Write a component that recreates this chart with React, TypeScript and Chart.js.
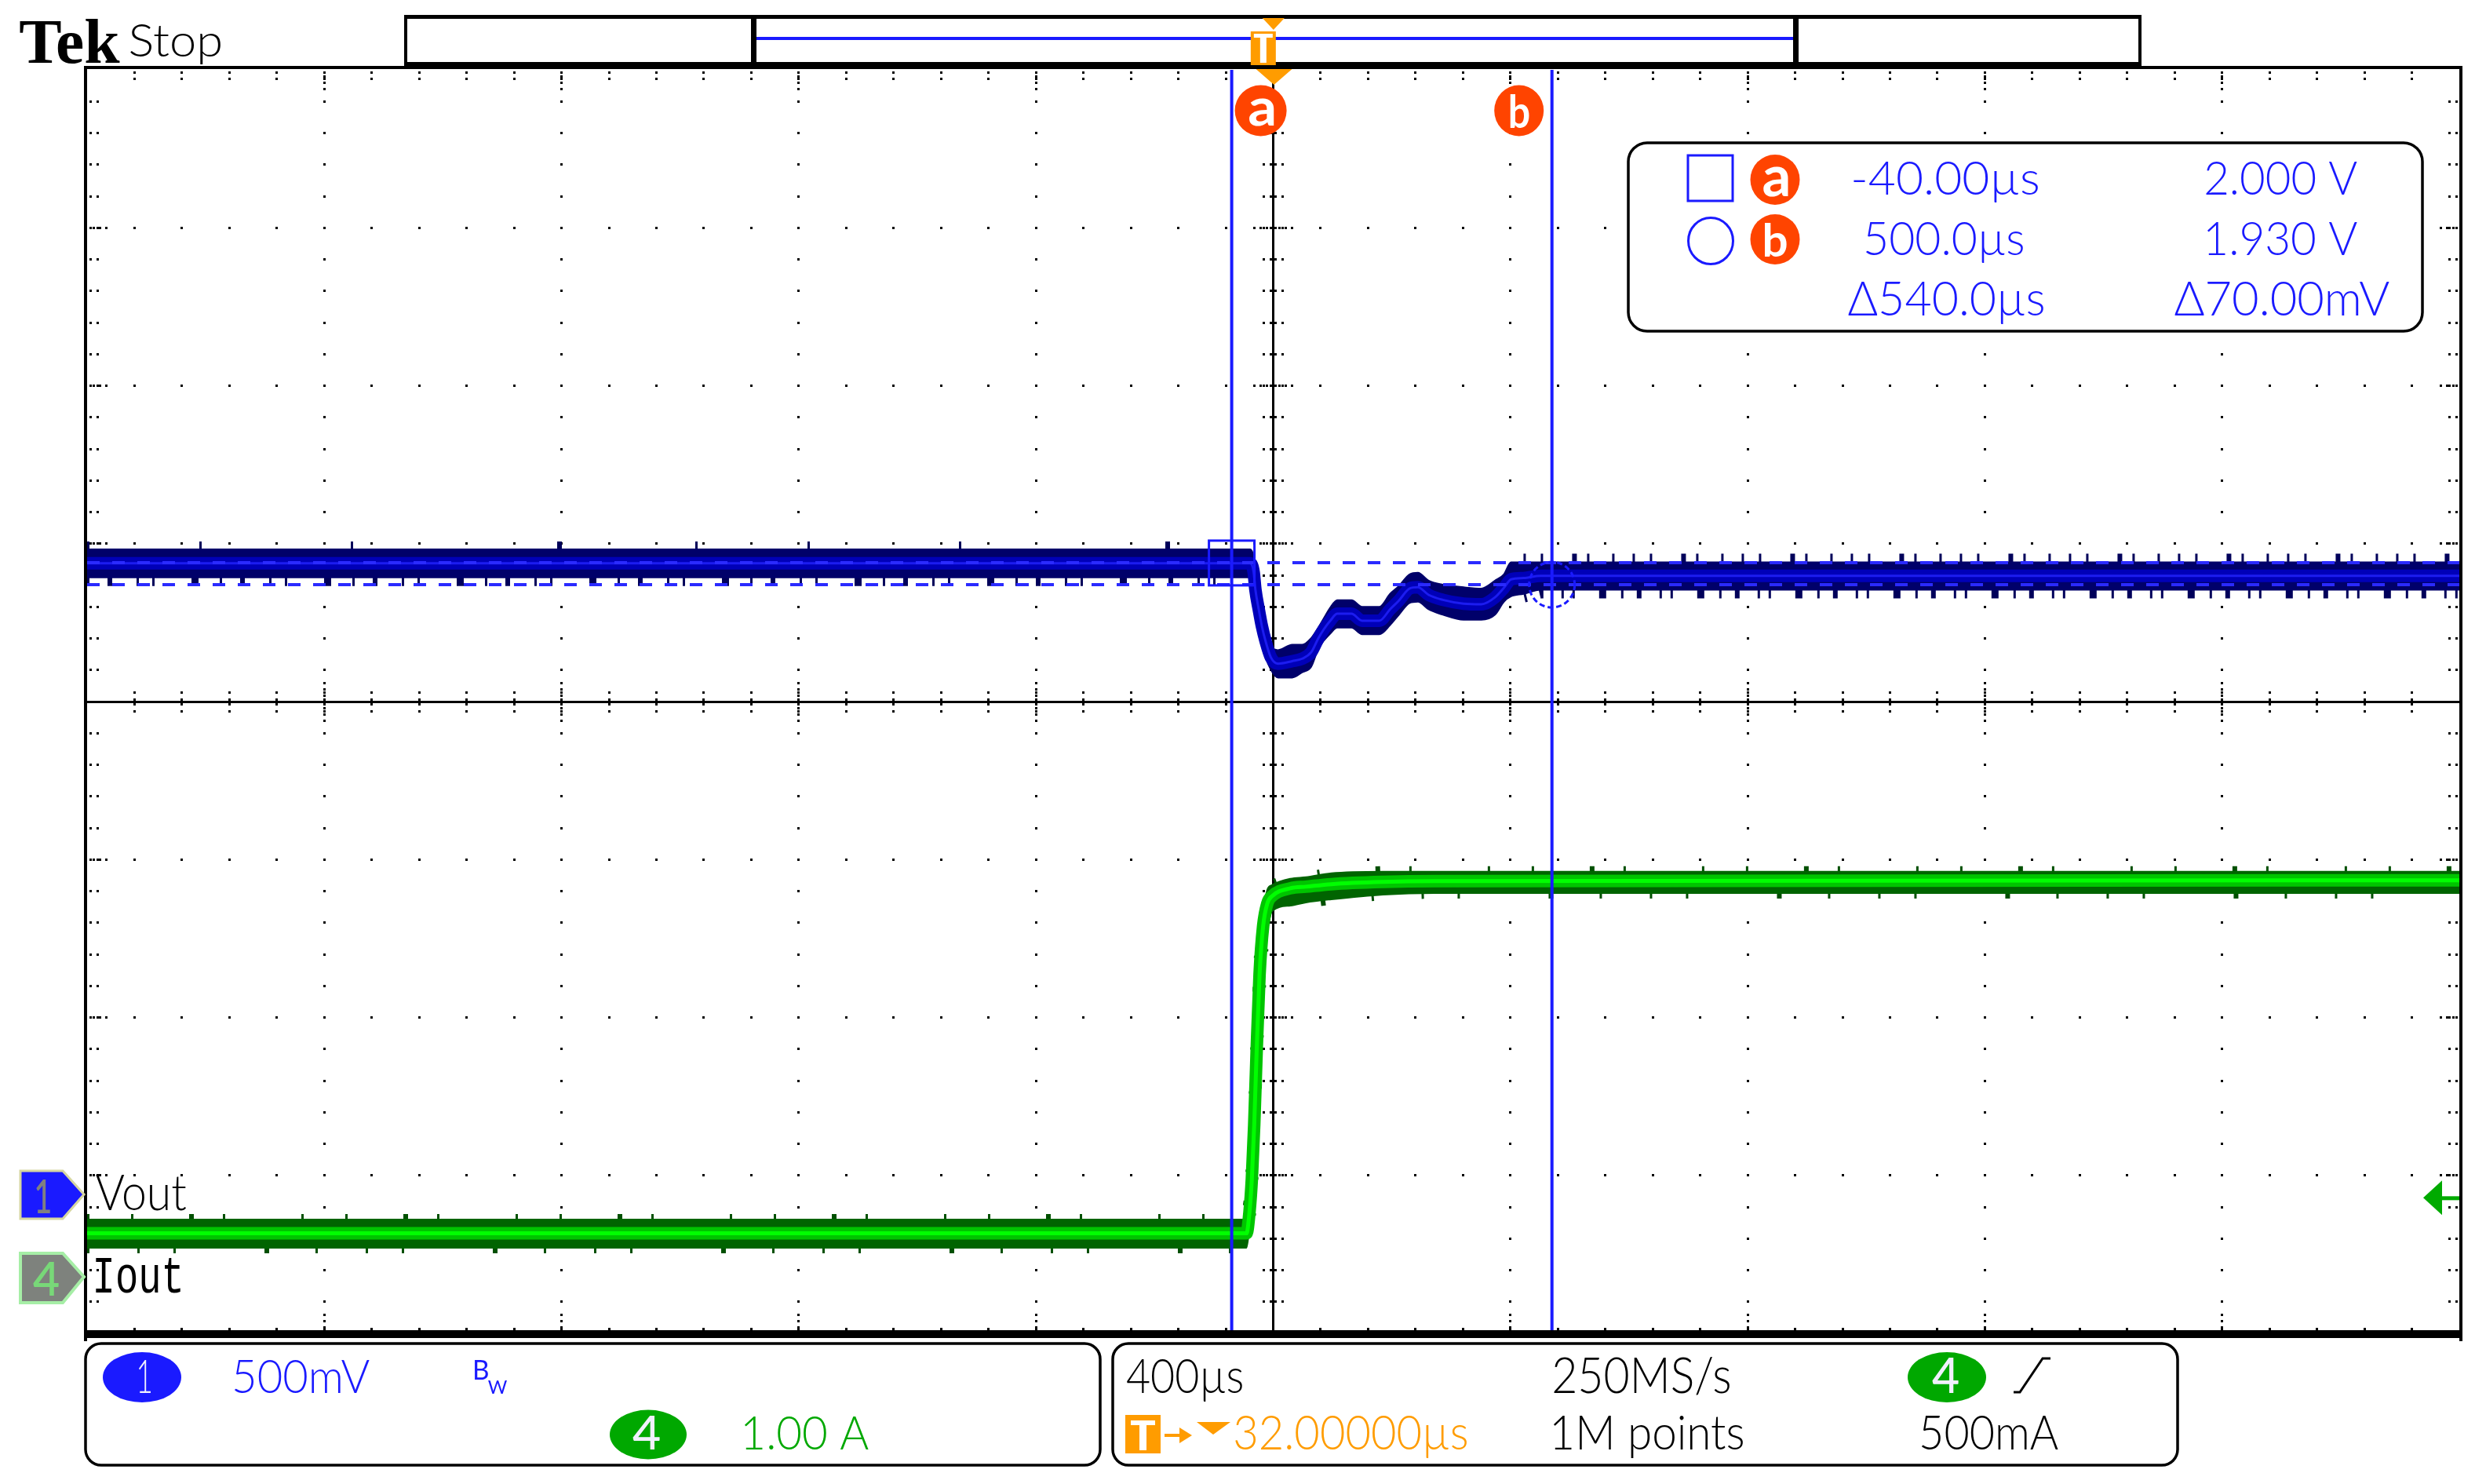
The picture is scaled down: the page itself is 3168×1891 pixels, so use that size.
import React, { useEffect, useRef } from 'react';
import { Chart, registerables } from 'chart.js';

Chart.register(...registerables);

const CANVAS_W = 3168;
const CANVAS_H = 1891;

// Horizontal: 400 µs/div, 10 divisions (delay 32 µs)
const TIME_MIN_US = -1970;
const TIME_MAX_US = 2030;
// Ch1 (Vout) 500 mV/div, Ch4 (Iout) 1.00 A/div, 8 divisions
const VOUT_AXIS = [-0.44, 3.56];
const IOUT_AXIS = [-0.358, 7.642];

// Channel 1 – Vout envelope (µs, V)
const VOUT_T_US = [-1970, -9, -3, 0, 6, 11, 17, 26, 38, 62, 79, 94, 106, 115, 127, 138, 162, 180, 209, 227, 242, 260, 274, 292, 316, 351, 381, 404, 419, 431, 452, 481, 2030];
const VOUT_TOP = [2.042, 2.042, 2.02, 1.976, 1.893, 1.843, 1.802, 1.74, 1.723, 1.74, 1.74, 1.761, 1.794, 1.823, 1.86, 1.881, 1.881, 1.86, 1.86, 1.901, 1.926, 1.963, 1.968, 1.943, 1.93, 1.922, 1.918, 1.943, 1.963, 2.001, 2.001, 2.001, 2.001];
const VOUT_BOT = [1.953, 1.953, 1.92, 1.852, 1.802, 1.752, 1.703, 1.661, 1.636, 1.636, 1.653, 1.67, 1.727, 1.752, 1.777, 1.794, 1.794, 1.773, 1.773, 1.802, 1.835, 1.872, 1.876, 1.852, 1.835, 1.819, 1.819, 1.835, 1.876, 1.893, 1.901, 1.914, 1.914];
const VOUT_MID = [1.998, 1.998, 1.97, 1.914, 1.848, 1.798, 1.752, 1.7, 1.68, 1.688, 1.696, 1.716, 1.76, 1.788, 1.818, 1.838, 1.838, 1.816, 1.816, 1.852, 1.88, 1.918, 1.922, 1.898, 1.882, 1.87, 1.868, 1.89, 1.92, 1.947, 1.951, 1.958, 1.958];

// Channel 4 – Iout envelope (µs, A)
const IOUT_T_US = [-1970, -15, -10, -6, -2, 2, 7, 13, 20, 28, 59, 85, 128, 215, 302, 2030];
const IOUT_TOP = [0.363, 0.363, 0.5, 0.75, 1.15, 1.6, 2.05, 2.3, 2.45, 2.48, 2.52, 2.53, 2.555, 2.565, 2.565, 2.565];
const IOUT_BOT = [0.184, 0.184, 0.32, 0.5, 0.8, 1.25, 1.75, 2.1, 2.2, 2.315, 2.35, 2.37, 2.39, 2.42, 2.43, 2.43];
const IOUT_MID = [0.275, 0.275, 0.41, 0.62, 0.965, 1.42, 1.915, 2.22, 2.363, 2.41, 2.46, 2.47, 2.486, 2.5, 2.505, 2.51];

// Cursors
const CURSOR_T_US = [-40, 500];
const CURSOR_V = [2.0, 1.93];
const TRIG_LEVEL_A = 0.5;

// Readout / status texts
const READ_T = ['-40.00µs', '500.0µs', 'Δ540.0µs'];
const READ_V = ['2.000 V', '1.930 V', 'Δ70.00mV'];

const BLUE = '#1a1aff';
const GREEN = '#00a800';
const ORANGE = '#ff9c00';
const RED = '#ff4400';
const SCOPE_FONT = '300 100px Lato';

function pts(t: number[], v: number[]) {
  return t.map((x, i) => ({ x, y: v[i] }));
}

function fit(ctx: CanvasRenderingContext2D, s: string, x0: number, x1: number, top: number, base: number, color: string, font = SCOPE_FONT) {
  ctx.save();
  ctx.font = font;
  ctx.textAlign = 'left';
  ctx.textBaseline = 'alphabetic';
  const m = ctx.measureText(s);
  const gl = m.actualBoundingBoxLeft;
  const gr = m.actualBoundingBoxRight;
  const ga = m.actualBoundingBoxAscent;
  const sx = (x1 - x0) / (gl + gr);
  const sy = (base - top) / ga;
  ctx.translate(x0, base);
  ctx.scale(sx, sy);
  ctx.fillStyle = color;
  ctx.fillText(s, gl, 0);
  ctx.restore();
}

function ellipse(ctx: CanvasRenderingContext2D, cx: number, cy: number, rx: number, ry: number, color: string) {
  ctx.beginPath();
  ctx.ellipse(cx, cy, rx, ry, 0, 0, Math.PI * 2);
  ctx.fillStyle = color;
  ctx.fill();
}

function roundBox(ctx: CanvasRenderingContext2D, x: number, y: number, w: number, h: number, r: number) {
  ctx.beginPath();
  ctx.roundRect(x, y, w, h, r);
  ctx.fillStyle = '#fff';
  ctx.fill();
  ctx.lineWidth = 3.5;
  ctx.strokeStyle = '#000';
  ctx.stroke();
}

function poly(ctx: CanvasRenderingContext2D, p: number[][], fill: string, stroke?: string, lw = 3) {
  ctx.beginPath();
  p.forEach(([x, y], i) => (i ? ctx.lineTo(x, y) : ctx.moveTo(x, y)));
  ctx.closePath();
  ctx.fillStyle = fill;
  ctx.fill();
  if (stroke) {
    ctx.lineWidth = lw;
    ctx.strokeStyle = stroke;
    ctx.stroke();
  }
}

const scopePlugin = {
  id: 'scope',
  beforeDraw(chart: any) {
    const ctx = chart.ctx;
    ctx.save();
    ctx.fillStyle = '#fff';
    ctx.fillRect(0, 0, chart.width, chart.height);
    ctx.restore();
  },
  beforeDatasetsDraw(chart: any) {
    const ctx: CanvasRenderingContext2D = chart.ctx;
    const { left: L, right: R, top: T, bottom: B } = chart.chartArea;
    const dx = (R - L) / 10;
    const dy = (B - T) / 8;
    const cx = L + 5 * dx;
    const cy = T + 4 * dy;
    ctx.save();
    ctx.fillStyle = '#000';
    const d = (x: number, y: number, w = 3, h = 3) => ctx.fillRect(Math.round(x - w / 2), Math.round(y - h / 2), w, h);
    for (let i = 1; i < 10; i++) {
      if (i === 5) continue;
      const x = L + i * dx;
      for (let k = 1; k < 40; k++) d(x, T + (k * dy) / 5);
      for (const o of [8, 16, 24]) {
        d(x, T + o);
        d(x, B - o);
        d(x, cy - o);
        d(x, cy + o);
      }
    }
    for (let j = 1; j < 8; j++) {
      if (j === 4) continue;
      const y = T + j * dy;
      for (let k = 1; k < 50; k++) d(L + (k * dx) / 5, y);
      for (const o of [8, 16, 24]) {
        d(L + o, y);
        d(R - o, y);
        d(cx - o, y);
        d(cx + o, y);
      }
    }
    ctx.fillRect(Math.round(cx - 1.5), T, 3, B - T);
    ctx.fillRect(L, Math.round(cy - 1.5), R - L, 3);
    for (let k = 1; k < 40; k++) {
      const y = T + (k * dy) / 5;
      d(cx - 12, y);
      d(cx + 12, y);
      d(cx, y, 9, 3);
      d(L + 4, y);
      d(L + 13, y);
      d(R - 4, y);
      d(R - 13, y);
    }
    for (let k = 1; k < 50; k++) {
      const x = L + (k * dx) / 5;
      d(x, cy - 12);
      d(x, cy + 12);
      d(x, cy, 3, 9);
      d(x, T + 3);
      d(x, T + 11);
      d(x, B - 6);
    }
    ctx.restore();
  },
  afterDatasetsDraw(chart: any) {
    const ctx: CanvasRenderingContext2D = chart.ctx;
    const { left: L, right: R, top: T, bottom: B } = chart.chartArea;
    const xs = chart.scales.x;
    const yv = chart.scales.yV;
    const yi = chart.scales.yI;
    ctx.save();

    // graticule frame
    ctx.fillStyle = '#000';
    ctx.fillRect(L - 4, T - 5, 4, B - T + 15);
    ctx.fillRect(R, T - 5, 4, B - T + 15);
    ctx.fillRect(L - 4, T - 5, R - L + 8, 4);
    ctx.fillRect(L - 4, B - 4, R - L + 8, 10);

    // record view bar
    ctx.fillRect(515, 19, 2214, 5);
    ctx.fillRect(515, 19, 4, 66);
    ctx.fillRect(2725, 19, 4, 66);
    ctx.fillRect(515, 79, 2214, 6);
    ctx.fillRect(957, 22, 7, 60);
    ctx.fillRect(2285, 22, 7, 60);
    ctx.fillStyle = BLUE;
    ctx.fillRect(964, 47, 1321, 4);

    // trigger position marker
    const xc = xs.getPixelForValue(0) + 10;
    poly(ctx, [[xc - 1, 23], [xc + 27, 23], [xc + 13, 38]], ORANGE);
    ctx.fillStyle = ORANGE;
    ctx.fillRect(xc - 16, 40, 32, 43);
    ctx.fillStyle = '#fff';
    ctx.fillRect(xc - 12, 43, 24, 5);
    ctx.fillRect(xc - 4, 43, 8, 37);
    const xmid = (L + R) / 2;
    poly(ctx, [[xmid - 22, T - 1], [xmid + 24, T - 1], [xmid + 1, T + 19]], ORANGE);

    // cursor markers on the trace
    const ax = xs.getPixelForValue(CURSOR_T_US[0]);
    const bx = xs.getPixelForValue(CURSOR_T_US[1]);
    const ay = yv.getPixelForValue(CURSOR_V[0]);
    const by = yv.getPixelForValue(CURSOR_V[1]);
    ctx.strokeStyle = BLUE;
    ctx.lineWidth = 3;
    ctx.strokeRect(ax - 29, ay - 28, 58, 57);
    ctx.setLineDash([7, 4]);
    ctx.beginPath();
    ctx.ellipse(bx, by, 29, 29, 0, 0, Math.PI * 2);
    ctx.stroke();
    ctx.setLineDash([]);

    // cursor name badges
    ellipse(ctx, ax + 37, T + 52, 33, 32.5, RED);
    fit(ctx, 'a', ax + 22, ax + 54, T + 36, T + 71, '#fff', 'bold 100px Lato');
    ellipse(ctx, bx - 42, T + 52, 31.5, 32.5, RED);
    fit(ctx, 'b', bx - 53, bx - 29, T + 31, T + 74, '#fff', 'bold 100px Lato');

    // cursor readout
    roundBox(ctx, 2075, 182, 1012, 240, 24);
    ctx.strokeStyle = BLUE;
    ctx.lineWidth = 3;
    ctx.strokeRect(2151, 198, 57, 58);
    ctx.beginPath();
    ctx.ellipse(2180, 307, 28.5, 29.5, 0, 0, Math.PI * 2);
    ctx.stroke();
    ellipse(ctx, 2262, 229, 31.5, 32, RED);
    fit(ctx, 'a', 2247, 2279, 212, 250, '#fff', 'bold 100px Lato');
    ellipse(ctx, 2262, 305, 31.5, 32, RED);
    fit(ctx, 'b', 2249, 2277, 285, 327, '#fff', 'bold 100px Lato');
    fit(ctx, READ_T[0], 2362, 2597, 205, 248, BLUE);
    fit(ctx, READ_V[0], 2811, 3004, 205, 248, BLUE);
    fit(ctx, READ_T[1], 2378, 2578, 282, 325, BLUE);
    fit(ctx, READ_V[1], 2813, 3004, 282, 325, BLUE);
    fit(ctx, READ_T[2], 2355, 2604, 358, 402, BLUE);
    fit(ctx, READ_V[2], 2771, 3045, 358, 402, BLUE);

    // channel ground markers and labels
    const g1 = yv.getPixelForValue(0);
    poly(ctx, [[26, g1 - 30], [80, g1 - 30], [107, g1], [80, g1 + 31], [26, g1 + 31]], BLUE, '#d6d6a0', 3);
    fit(ctx, '1', 46, 64, g1 - 19, g1 + 24, '#808080', '500 100px Lato');
    fit(ctx, 'Vout', 122, 237, 1497, 1542, '#000');
    const g4 = yi.getPixelForValue(0);
    poly(ctx, [[26, g4 - 30], [80, g4 - 30], [107, g4], [80, g4 + 33], [26, g4 + 33]], '#7e827d', '#a6eea6', 4);
    fit(ctx, '4', 42, 75, g4 - 20, g4 + 24, '#78d878', '600 100px Lato');
    fit(ctx, 'Iout', 122, 230, 1602, 1647, '#000', '100px "Liberation Mono"');

    // trigger level arrow
    const ty = yi.getPixelForValue(TRIG_LEVEL_A);
    poly(ctx, [[R - 46, ty], [R - 22, ty - 22], [R - 22, ty + 22]], '#00aa00');
    ctx.fillStyle = '#00aa00';
    ctx.fillRect(R - 22, ty - 2, 22, 5);

    // header
    fit(ctx, 'Tek', 25, 153, 24, 80, '#000', 'bold 100px "Liberation Serif"');
    fit(ctx, 'Stop', 166, 281, 30, 72, '#000');

    // status boxes
    roundBox(ctx, 109, 1712, 1293, 155, 20);
    roundBox(ctx, 1418, 1712, 1357, 155, 20);
    ellipse(ctx, 181, 1755, 50, 32, BLUE);
    fit(ctx, '1', 177, 192, 1732, 1775, '#f0f0ff');
    fit(ctx, '500mV', 299, 471, 1732, 1775, BLUE);
    fit(ctx, 'B', 605, 622, 1732, 1758, BLUE, '100px Lato');
    fit(ctx, 'W', 622, 646, 1759, 1776, BLUE, '100px Lato');
    ellipse(ctx, 826, 1828, 49, 31.5, GREEN);
    fit(ctx, '4', 806, 841, 1804, 1847, '#f0f0ff', '500 100px Lato');
    fit(ctx, '1.00 A', 949, 1107, 1804, 1847, GREEN);

    fit(ctx, '400µs', 1436, 1583, 1730, 1775, '#000');
    ctx.fillStyle = ORANGE;
    ctx.fillRect(1434, 1803, 45, 49);
    ctx.fillStyle = '#fff';
    ctx.fillRect(1441, 1810, 31, 6);
    ctx.fillRect(1452, 1810, 9, 38);
    ctx.fillStyle = ORANGE;
    ctx.fillRect(1484, 1827, 22, 4);
    poly(ctx, [[1503, 1819], [1519, 1829], [1503, 1839]], ORANGE);
    poly(ctx, [[1525, 1812], [1568, 1812], [1546, 1828]], ORANGE);
    fit(ctx, '32.00000µs', 1574, 1869, 1803, 1847, ORANGE);
    fit(ctx, '250MS/s', 1980, 2204, 1728, 1775, '#000');
    fit(ctx, '1M points', 1980, 2221, 1803, 1847, '#000');
    ellipse(ctx, 2481, 1755, 50, 32, GREEN);
    fit(ctx, '4', 2462, 2496, 1730, 1775, '#f0f0ff', '500 100px Lato');
    ctx.strokeStyle = '#000';
    ctx.lineWidth = 3;
    ctx.beginPath();
    ctx.moveTo(2566, 1774);
    ctx.lineTo(2574, 1774);
    ctx.lineTo(2603, 1731);
    ctx.lineTo(2613, 1731);
    ctx.stroke();
    fit(ctx, '500mA', 2449, 2623, 1803, 1847, '#000');

    ctx.restore();
  },
};

export default function App() {
  const ref = useRef<HTMLCanvasElement | null>(null);

  useEffect(() => {
    if (!ref.current) return;
    const line = (data: any[], axis: string, color: string, width: number, order: number, extra: any = {}) => ({
      data,
      yAxisID: axis,
      borderColor: color,
      backgroundColor: color,
      borderWidth: width,
      pointRadius: 0,
      fill: false,
      order,
      cubicInterpolationMode: 'monotone',
      borderJoinStyle: 'round',
      ...extra,
    });
    const vTop = pts(VOUT_T_US, VOUT_TOP);
    const vBot = pts(VOUT_T_US, VOUT_BOT);
    const vMid = pts(VOUT_T_US, VOUT_MID);
    const iTop = pts(IOUT_T_US, IOUT_TOP);
    const iBot = pts(IOUT_T_US, IOUT_BOT);
    const iMid = pts(IOUT_T_US, IOUT_MID);
    // flat parts of the traces (before the step and after settling) carry the noise spikes
    const pre = (p: any[]) => p.slice(0, 2);
    const post = (p: any[]) => p.slice(-3);
    const cursorV = (t: number) => [{ x: t, y: VOUT_AXIS[0] }, { x: t, y: VOUT_AXIS[1] }];
    const cursorH = (v: number) => [{ x: TIME_MIN_US, y: v }, { x: TIME_MAX_US, y: v }];
    const spike = (data: any[], axis: string, color: string, width: number, dash: number[]) =>
      line(data, axis, color, width, 4, { borderDash: dash, borderCapStyle: 'butt', cubicInterpolationMode: 'default' });

    const chart = new Chart(ref.current, {
      type: 'line',
      data: {
        datasets: [
          line(cursorV(CURSOR_T_US[0]), 'yV', BLUE, 4, 0, { cubicInterpolationMode: 'default' }),
          line(cursorV(CURSOR_T_US[1]), 'yV', BLUE, 4, 0, { cubicInterpolationMode: 'default' }),
          line(cursorH(CURSOR_V[0]), 'yV', '#2a2aff', 4, 0, { borderDash: [16, 16], cubicInterpolationMode: 'default' }),
          line(cursorH(CURSOR_V[1]), 'yV', '#2a2aff', 4, 0, { borderDash: [16, 16], cubicInterpolationMode: 'default' }),
          // Vout
          line(vMid, 'yV', '#1c1cf0', 3, 1),
          line(vMid, 'yV', '#0000b8', 16, 2),
          line(vTop, 'yV', '#00006a', 2, 3, { fill: '+1', backgroundColor: '#00006a' }),
          line(vBot, 'yV', '#00006a', 2, 3),
          spike(pre(vTop), 'yV', '#00005a', 20, [3, 140, 3, 190, 3, 260, 6, 170]),
          spike(pre(vBot), 'yV', '#00005a', 22, [3, 23, 6, 31, 3, 17, 3, 47, 9, 27]),
          spike(post(vTop), 'yV', '#00005a', 22, [3, 19, 3, 37, 6, 13, 3, 29, 3, 23]),
          spike(post(vBot), 'yV', '#00005a', 22, [3, 17, 6, 23, 3, 11, 3, 31, 9, 19]),
          // Iout
          line(iMid, 'yI', '#00ff00', 5, 1),
          line(iMid, 'yI', '#00c400', 16, 2),
          line(iTop, 'yI', '#006400', 2, 3, { fill: '+1', backgroundColor: '#006400' }),
          line(iBot, 'yI', '#006400', 2, 3),
          spike(iTop, 'yI', '#005000', 14, [3, 53, 3, 71, 6, 37, 3, 97]),
          spike(iBot, 'yI', '#005000', 14, [3, 61, 3, 43, 3, 113, 6, 59]),
        ],
      },
      options: {
        responsive: false,
        maintainAspectRatio: false,
        animation: false,
        devicePixelRatio: 1,
        events: [],
        layout: { padding: { left: 111, right: CANVAS_W - 3134, top: 89, bottom: CANVAS_H - 1699 } },
        plugins: { legend: { display: false }, tooltip: { enabled: false }, title: { display: false } },
        scales: {
          x: { type: 'linear', min: TIME_MIN_US, max: TIME_MAX_US, display: false },
          yV: { type: 'linear', min: VOUT_AXIS[0], max: VOUT_AXIS[1], display: false },
          yI: { type: 'linear', min: IOUT_AXIS[0], max: IOUT_AXIS[1], display: false },
        },
      } as any,
      plugins: [scopePlugin as any],
    } as any);
    return () => chart.destroy();
  }, []);

  return (
    <div style={{ position: 'fixed', left: 0, top: 0, width: CANVAS_W, height: CANVAS_H, background: '#fff' }}>
      <canvas ref={ref} width={CANVAS_W} height={CANVAS_H} style={{ display: 'block', width: CANVAS_W, height: CANVAS_H }} />
    </div>
  );
}
